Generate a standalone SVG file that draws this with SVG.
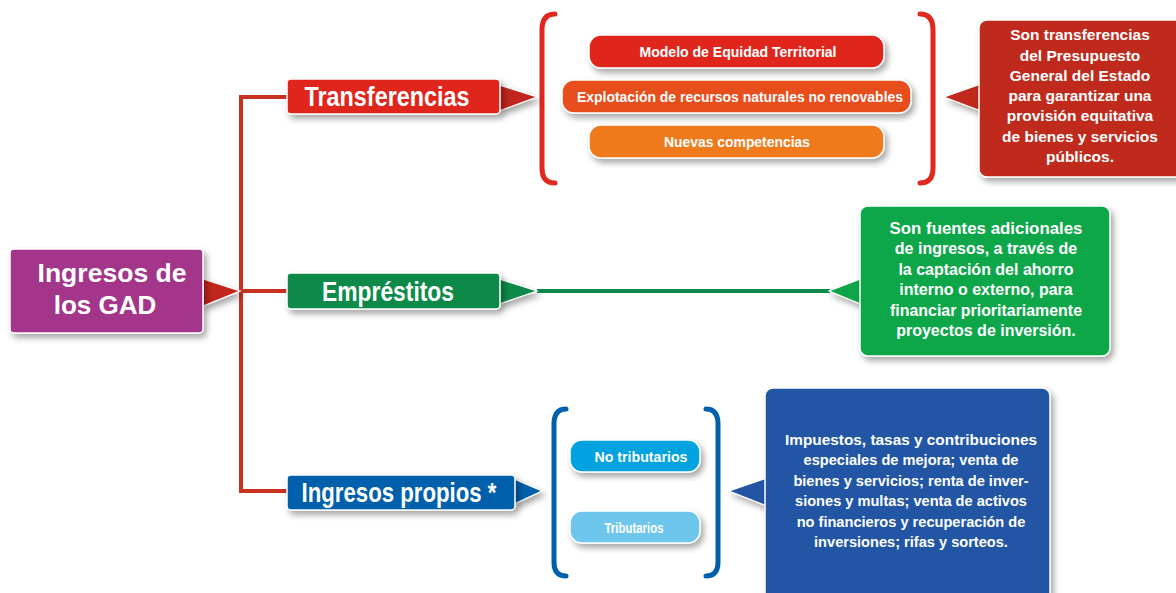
<svg xmlns="http://www.w3.org/2000/svg" width="1176" height="593" viewBox="0 0 1176 593">
<defs>
<filter id="sh" x="-10%" y="-20%" width="130%" height="150%">
<feDropShadow dx="3" dy="4" stdDeviation="3" flood-color="#000" flood-opacity="0.35"/>
</filter>
<style>
text{font-family:"Liberation Sans",Arial,sans-serif;font-weight:bold;fill:#fff;text-anchor:middle}
.box{stroke:#fff;stroke-width:1.5;filter:url(#sh)}
.tri{stroke:#fff;stroke-width:1.2;filter:url(#sh)}
.h{font-size:27px}
.p{font-size:15px}
.c{font-size:15.5px}
.g{font-size:16px}
.b{font-size:14.6px}
.br{fill:none;stroke-width:5;stroke-linecap:round}
</style>
</defs>
<rect width="1176" height="593" fill="#fff"/>
<g id="connectors">
<path d="M287 97 H241 V491 H287" fill="none" stroke="#c8321e" stroke-width="4"/>
<path d="M241 291 H287" fill="none" stroke="#c8321e" stroke-width="4"/>
<path d="M537 291 H830" fill="none" stroke="#0a8a48" stroke-width="4"/>
<path class="br" stroke="#e0281e" d="M555 14 Q542 14 542 30 V168 Q542 183 555 183"/>
<path class="br" stroke="#e0281e" d="M920 14 Q933 14 933 30 V168 Q933 183 920 183"/>
<path class="br" stroke="#0060ac" d="M566 409 Q554 409 554 424 V562 Q554 576 566 576"/>
<path class="br" stroke="#0060ac" d="M706 409 Q718 409 718 424 V562 Q718 576 706 576"/>
</g>
<g id="main">
<polygon class="tri" points="203,279 240,291 203,306" fill="#c0281a"/>
<rect class="box" x="10" y="249" width="193" height="84" rx="4" fill="#a3358a"/>
<text x="112" y="282" font-size="26" textLength="149" lengthAdjust="spacingAndGlyphs">Ingresos de</text>
<text x="105" y="314" font-size="26">los GAD</text>
</g>
<g id="transferencias">
<polygon class="tri" points="499,85 537,97 499,111" fill="#c0281a"/>
<rect class="box" x="287" y="79" width="213" height="35" rx="4" fill="#e0281e"/>
<text class="h" x="387" y="106" textLength="165" lengthAdjust="spacingAndGlyphs">Transferencias</text>
</g>
<g id="modelo">
<rect class="box" x="589" y="35" width="295" height="33" rx="12" fill="#e0281e"/>
<text class="p" x="738" y="57" textLength="197" lengthAdjust="spacingAndGlyphs">Modelo de Equidad Territorial</text>
</g>
<g id="explotacion">
<rect class="box" x="562" y="80" width="349" height="33" rx="12" fill="#e84e1e"/>
<text class="p" x="740" y="102" textLength="326" lengthAdjust="spacingAndGlyphs">Explotación de recursos naturales no renovables</text>
</g>
<g id="nuevas">
<rect class="box" x="589" y="125" width="295" height="33" rx="12" fill="#ef7a1e"/>
<text class="p" x="737" y="147" textLength="146" lengthAdjust="spacingAndGlyphs">Nuevas competencias</text>
</g>
<g id="callout-transferencias">
<polygon class="tri" points="981,84 944,97 981,111" fill="#c0291a"/>
<rect class="box" x="979" y="20" width="210" height="157" rx="8" fill="#c0291a"/>
<text class="c" x="1080" y="40">Son transferencias</text>
<text class="c" x="1080" y="61">del Presupuesto</text>
<text class="c" x="1080" y="81">General del Estado</text>
<text class="c" x="1080" y="101">para garantizar una</text>
<text class="c" x="1080" y="121">provisión equitativa</text>
<text class="c" x="1080" y="142">de bienes y servicios</text>
<text class="c" x="1080" y="162">públicos.</text>
</g>
<g id="emprestitos">
<polygon class="tri" points="499,279 537,291 499,304" fill="#0a8a48"/>
<rect class="box" x="287" y="273" width="213" height="36" rx="4" fill="#0a8a48"/>
<text class="h" x="388" y="301" textLength="132" lengthAdjust="spacingAndGlyphs">Empréstitos</text>
</g>
<g id="callout-emprestitos">
<polygon class="tri" points="863,278 829,291 863,305" fill="#0aa64a"/>
<rect class="box" x="860" y="206" width="250" height="150" rx="8" fill="#0aa64a"/>
<text class="g" x="986" y="234" textLength="193" lengthAdjust="spacingAndGlyphs">Son fuentes adicionales</text>
<text class="g" x="986" y="254">de ingresos, a través de</text>
<text class="g" x="986" y="275">la captación del ahorro</text>
<text class="g" x="986" y="295">interno o externo, para</text>
<text class="g" x="986" y="316" textLength="192" lengthAdjust="spacingAndGlyphs">financiar prioritariamente</text>
<text class="g" x="986" y="336">proyectos de inversión.</text>
</g>
<g id="ingresos-propios">
<polygon class="tri" points="514,479 542,491 514,504" fill="#0060ac"/>
<rect class="box" x="287" y="475" width="228" height="35" rx="4" fill="#0060ac"/>
<text class="h" x="399" y="502" textLength="195" lengthAdjust="spacingAndGlyphs">Ingresos propios *</text>
</g>
<g id="no-tributarios">
<rect class="box" x="570" y="440" width="130" height="32" rx="12" fill="#00a3e0"/>
<text class="p" x="641" y="462" textLength="93" lengthAdjust="spacingAndGlyphs">No tributarios</text>
</g>
<g id="tributarios">
<rect class="box" x="570" y="511" width="130" height="32" rx="12" fill="#6ec6ec"/>
<text class="p" x="634" y="533" textLength="59" lengthAdjust="spacingAndGlyphs">Tributarios</text>
</g>
<g id="callout-propios">
<polygon class="tri" points="767,478 729,491 767,506" fill="#2456a4"/>
<rect class="box" x="765" y="388" width="285" height="215" rx="8" fill="#2456a4"/>
<text class="b" x="911" y="445" textLength="252" lengthAdjust="spacingAndGlyphs">Impuestos, tasas y contribuciones</text>
<text class="b" x="911" y="465">especiales de mejora; venta de</text>
<text class="b" x="911" y="486">bienes y servicios; renta de inver-</text>
<text class="b" x="911" y="506">siones y multas; venta de activos</text>
<text class="b" x="911" y="527">no financieros y recuperación de</text>
<text class="b" x="911" y="547">inversiones; rifas y sorteos.</text>
</g>
</svg>
